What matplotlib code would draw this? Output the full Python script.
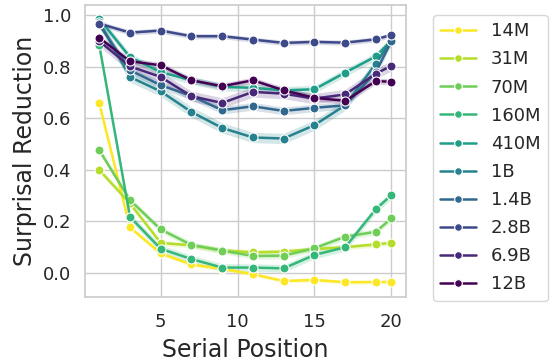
import numpy as np
import matplotlib
matplotlib.use("Agg")
import matplotlib.pyplot as plt
import seaborn as sns

sns.set_theme(style="whitegrid")
plt.rcParams['font.family'] = ['DejaVu Sans']

positions = [1, 3, 5, 7, 9, 11, 13, 15, 17, 19, 20]
models = ["14M", "31M", "70M", "160M", "410M", "1B", "1.4B", "2.8B", "6.9B", "12B"]

r_14m = [0.66, 0.177, 0.076, 0.033, 0.016, -0.005, -0.031, -0.027, -0.036, -0.035, -0.035]
r_31m = [0.40, 0.27, 0.117, 0.107, 0.088, 0.080, 0.083, 0.093, 0.100, 0.111, 0.117]
r_70m = [0.477, 0.283, 0.169, 0.109, 0.087, 0.066, 0.067, 0.096, 0.141, 0.160, 0.212]
r_160m = [0.885, 0.218, 0.094, 0.054, 0.021, 0.021, 0.018, 0.070, 0.100, 0.248, 0.302]
r_410m = [0.987, 0.838, 0.780, 0.748, 0.722, 0.719, 0.709, 0.713, 0.778, 0.841, 0.903]
r_1b = [0.975, 0.761, 0.705, 0.625, 0.563, 0.526, 0.522, 0.574, 0.651, 0.813, 0.905]
r_1_4b = [0.965, 0.787, 0.729, 0.687, 0.632, 0.647, 0.629, 0.641, 0.651, 0.780, 0.900]
r_2_8b = [0.968, 0.933, 0.941, 0.919, 0.919, 0.906, 0.893, 0.897, 0.894, 0.907, 0.924]
r_6_9b = [0.900, 0.802, 0.761, 0.686, 0.660, 0.703, 0.696, 0.677, 0.693, 0.774, 0.804]
r_12b = [0.913, 0.822, 0.806, 0.748, 0.725, 0.748, 0.709, 0.680, 0.668, 0.745, 0.742]

# half width of the confidence band, per model
band = [0.008, 0.010, 0.012, 0.015, 0.015, 0.020, 0.015, 0.010, 0.020, 0.012]

series = [r_14m, r_31m, r_70m, r_160m, r_410m, r_1b, r_1_4b, r_2_8b, r_6_9b, r_12b]
colors = plt.cm.viridis(np.linspace(1, 0, len(models)))

fig = plt.figure(figsize=(5.53, 3.61), dpi=100)
ax = fig.add_axes([0.153, 0.176, 0.581, 0.810])

for name, ys, c, b in zip(models, series, colors, band):
    ys = np.array(ys)
    ax.fill_between(positions, ys - b, ys + b, color=c, alpha=0.2, linewidth=0)
    ax.plot(positions, ys, color=c, lw=1.8, marker='o', markersize=6.5,
            markeredgecolor='white', markeredgewidth=0.8, label=name)

ax.set_xlim(0.05, 20.95)
ax.set_ylim(-0.095, 1.04)
ax.set_xticks([5, 10, 15, 20])
ax.set_yticks([0.0, 0.2, 0.4, 0.6, 0.8, 1.0])
ax.tick_params(labelsize=13)
ax.tick_params(axis='x', pad=5)
ax.set_xlabel("Serial Position", fontsize=17, labelpad=5)
ax.set_ylabel("Surprisal Reduction", fontsize=17)

fig.legend(loc='upper left', bbox_to_anchor=(0.783, 0.958), borderaxespad=0,
           fontsize=13, markerscale=0.85, labelspacing=0.56)

fig.savefig("out.png", dpi=100)
